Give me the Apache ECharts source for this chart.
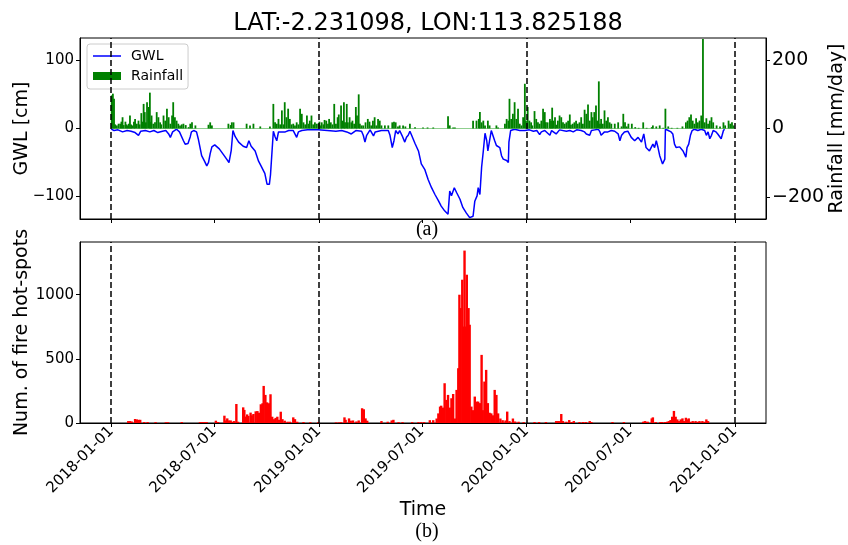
<!DOCTYPE html>
<html>
<head>
<meta charset="utf-8">
<script src="https://cdn.jsdelivr.net/npm/echarts@6/dist/echarts.min.js"></script>
<style>
html,body{margin:0;padding:0;background:#fff;}
#chart{width:848px;height:545px;}
</style>
</head>
<body>
<div id="chart"></div>
<script>
// Day offsets are counted from 2018-01-01 (day 0)
const START_DATE = '2018-01-01';
const xTickDays = [0, 181, 365, 546, 730, 912, 1096];
const yearMarkerDays = [0, 365, 730, 1096];
const gwlTicks = [-100, 0, 100];
const rainTicks = [-200, 0, 200];
const fireTicks = [0, 500, 1000];

// Ground water level [cm]: [day, value]
const gwl = [
[0,-1],[5,-3],[12,-2],[20,-5],[28,-3],[35,-4],[42,-6],[48,-10],[52,-4],[60,-3],[68,-5],[75,-3],[82,-6],[90,-4],[96,-3],[101,-8],[104,-13],[108,-5],[115,-1],[120,-5],[127,-18],[130,-23],[135,-22],[139,-12],[141,-5],[145,-3],[150,-5],[153,-15],[159,-40],[164,-48],[168,-55],[171,-50],[174,-37],[177,-27],[182,-24],[185,-24],[190,-30],[197,-38],[202,-44],[207,-50],[211,-32],[214,-3],[218,-12],[224,-20],[232,-26],[238,-28],[242,-18],[246,-26],[253,-33],[259,-48],[264,-56],[270,-66],[274,-82],[278,-82],[280,-68],[282,-70],[285,-4],[288,-12],[291,-18],[294,-5],[297,-3],[300,-5],[306,-5],[312,-3],[320,-3],[326,-13],[329,-5],[335,-3],[345,-2],[355,-2],[364,-2],
[367,-1],[380,-3],[395,-4],[405,-3],[414,-5],[422,-8],[430,-3],[440,-4],[443,-10],[446,-20],[449,-10],[455,-2],[461,-11],[464,-5],[475,-3],[487,-3],[490,-10],[494,-28],[497,-18],[500,-3],[504,-8],[507,-3],[511,-10],[516,-20],[519,-13],[522,-10],[525,-4],[528,-10],[534,-22],[540,-33],[545,-52],[551,-60],[557,-75],[563,-87],[569,-97],[575,-106],[580,-114],[586,-121],[592,-126],[595,-92],[598,-99],[603,-87],[607,-94],[613,-104],[618,-116],[624,-124],[630,-131],[636,-129],[639,-107],[643,-99],[645,-87],[648,-97],[651,-57],[654,-33],[657,-7],[660,-18],[662,-33],[665,-18],[668,-3],[671,-5],[674,-18],[677,-25],[683,-28],[686,-40],[689,-45],[695,-47],[698,-50],[699,-20],[702,-3],[709,-1],[718,-3],[727,-3],
[735,-2],[742,-4],[748,-3],[753,-9],[756,-5],[762,-3],[765,-5],[771,-10],[774,-3],[777,-5],[782,-8],[788,-2],[800,-4],[806,-3],[812,-5],[818,-2],[826,-3],[832,-5],[835,-8],[841,-10],[844,-3],[850,-2],[856,-1],[859,-5],[861,-10],[864,-8],[867,-5],[873,-5],[879,-3],[885,-4],[891,-8],[894,-18],[897,-10],[902,-5],[908,-4],[914,-13],[920,-18],[926,-13],[932,-20],[936,-8],[940,-28],[946,-33],[949,-35],[952,-23],[955,-28],[958,-18],[961,-28],[964,-40],[969,-52],[973,-45],[974,-1],[979,-3],[984,-5],[987,-8],[990,-23],[993,-28],[999,-27],[1005,-33],[1010,-42],[1012,-28],[1015,-23],[1018,-10],[1021,-3],[1025,-1],[1031,-3],[1037,-1],[1043,-3],[1046,-10],[1049,-5],[1052,-15],[1055,-10],[1058,-3],[1063,-5],[1066,-8],[1072,-15],[1076,-3],[1078,-1]
];

// Rainfall [mm/day]: [day, value]
const rainfall = [
[1,97],[3,102],[5,87],[7,12],[10,9],[13,14],[16,14],[18,20],[20,33],[22,10],[25,20],[27,12],[29,9],[31,14],[33,38],[35,12],[37,9],[40,20],[42,28],[45,14],[48,23],[50,12],[53,45],[55,20],[57,72],[59,48],[61,18],[63,77],[66,63],[68,105],[70,20],[71,38],[74,14],[77,18],[80,48],[83,33],[86,18],[88,12],[92,38],[95,23],[98,58],[101,33],[104,14],[107,38],[109,77],[112,33],[115,23],[118,14],[121,9],[124,12],[127,14],[131,10],[136,4],[139,14],[142,18],[148,9],[171,11],[174,18],[177,9],[206,14],[210,10],[212,18],[215,18],[238,14],[244,9],[250,14],[262,6],[279,6],[285,72],[288,18],[291,14],[294,28],[297,12],[300,53],[303,12],[305,77],[308,33],[311,58],[314,28],[317,12],[320,14],[323,9],[326,18],[329,12],[332,58],[335,43],[338,18],[341,12],[344,38],[347,14],[349,23],[352,38],[355,12],[358,18],[361,14],[364,14],
[366,20],[368,9],[370,18],[373,12],[375,25],[378,23],[381,14],[383,28],[386,18],[389,12],[392,72],[395,14],[398,33],[400,41],[404,67],[406,23],[409,77],[411,18],[414,72],[416,18],[419,33],[422,18],[424,23],[427,14],[430,63],[432,38],[435,100],[437,14],[440,9],[443,9],[447,18],[451,28],[454,20],[457,9],[460,23],[463,33],[466,9],[469,28],[472,23],[475,9],[481,9],[487,9],[494,18],[497,20],[500,18],[504,6],[507,9],[513,9],[517,6],[525,14],[534,4],[548,3],[556,3],[566,3],[592,36],[595,9],[601,3],[604,3],[636,23],[642,23],[646,28],[648,48],[651,18],[654,23],[657,9],[662,23],[665,9],[677,9],[680,3],[692,14],[695,28],[698,23],[700,87],[703,28],[706,43],[709,77],[712,28],[715,58],[718,14],[721,9],[724,33],[727,131],[729,23],
[732,63],[735,23],[738,18],[740,9],[744,51],[747,28],[750,18],[753,14],[756,23],[759,58],[762,48],[764,18],[767,18],[771,28],[773,23],[775,61],[777,23],[780,33],[782,11],[785,23],[788,38],[791,33],[794,18],[797,14],[800,18],[803,23],[806,41],[808,11],[811,14],[814,18],[817,23],[820,14],[823,18],[826,33],[829,14],[832,55],[835,43],[838,70],[841,23],[844,48],[846,33],[849,48],[852,67],[854,23],[857,138],[859,14],[861,28],[864,14],[867,53],[870,23],[873,33],[876,18],[879,14],[885,14],[891,18],[897,6],[900,43],[903,18],[906,6],[909,14],[915,14],[921,4],[927,2],[935,18],[941,2],[950,4],[952,9],[958,6],[964,9],[970,2],[974,58],[979,6],[985,2],[995,2],[1004,6],[1010,18],[1013,23],[1016,33],[1019,41],[1022,23],[1025,14],[1028,30],[1031,18],[1034,23],[1037,38],[1039,23],[1040,262],[1043,18],[1046,30],[1049,14],[1052,23],[1055,33],[1058,18],[1064,9],[1070,6],[1076,18],[1079,9],[1085,23],[1088,14],[1091,18],[1094,9]
];
const rainfallZero = [[0,0],[1095,0]];

// Number of fire hot-spots: [day, count]
const fire = [
[30,15],[33,15],[36,12],[42,31],[45,28],[48,25],[51,25],[58,8],[64,8],[78,7],[96,6],[100,6],[124,8],[156,7],[159,7],[162,7],[165,7],[168,7],[184,18],[188,8],[199,57],[202,20],[204,36],[207,20],[210,20],[213,10],[216,15],[220,148],[223,10],[232,122],[234,102],[236,50],[239,67],[241,55],[245,81],[247,60],[250,70],[254,91],[257,93],[260,80],[263,146],[266,154],[268,289],[271,219],[274,161],[277,154],[280,224],[283,49],[286,30],[289,40],[292,49],[295,25],[298,88],[301,30],[305,18],[310,10],[314,10],[320,44],[323,30],[327,10],[338,8],[350,6],[364,7],
[395,5],[400,5],[404,7],[410,44],[412,25],[418,36],[421,18],[425,20],[431,12],[435,20],[441,115],[444,107],[447,36],[450,18],[475,15],[486,10],[493,20],[496,25],[505,7],[512,7],[529,7],[540,7],[545,7],[550,7],[560,22],[566,22],[572,35],[575,75],[578,128],[580,135],[583,120],[586,310],[589,180],[592,219],[595,120],[598,193],[601,226],[604,35],[607,258],[610,427],[612,1000],[614,896],[617,1117],[619,752],[621,1344],[623,752],[625,1156],[628,896],[630,766],[633,128],[636,100],[639,206],[642,167],[645,167],[648,155],[651,531],[653,100],[656,323],[659,414],[662,155],[665,80],[668,75],[671,60],[674,258],[677,219],[680,75],[684,35],[688,22],[693,20],[696,89],[700,15],[706,35],[710,12],[716,10],[725,7],
[744,8],[752,8],[764,8],[782,15],[785,15],[788,15],[791,70],[794,15],[800,10],[805,23],[809,8],[813,15],[823,8],[829,8],[834,8],[841,15],[844,8],[881,8],[901,8],[935,10],[938,15],[940,10],[943,10],[950,36],[952,44],[957,8],[965,8],[968,8],[973,8],[977,10],[980,15],[983,23],[986,49],[989,94],[992,49],[995,28],[998,15],[1001,28],[1004,36],[1007,15],[1010,41],[1012,28],[1015,36],[1018,10],[1022,15],[1027,15],[1031,10],[1034,15],[1039,15],[1043,10],[1046,28],[1049,15]
];

const START_MS = Date.parse(START_DATE + 'T00:00:00Z');
function dayToISO(d) { return new Date(START_MS + d * 86400000).toISOString().slice(0, 10); }
function fmtNum(v) { return v < 0 ? '\u2212' + (-v) : String(v); }

const FONT = 'DejaVu Sans';
const X_MIN = -54.8, X_MAX = 1150.8;

const dashLines = {
  silent: true, symbol: ['none', 'none'], animation: false,
  label: { show: false },
  lineStyle: { color: '#000', type: [6, 3], width: 1.5 },
  data: yearMarkerDays.map(d => ({ xAxis: d }))
};

const chart = echarts.init(document.getElementById('chart'), null, { renderer: 'canvas' });
chart.setOption({
  animation: false,
  backgroundColor: '#fff',
  textStyle: { fontFamily: FONT, color: '#000' },
  title: {
    text: 'LAT:-2.231098, LON:113.825188', left: 423, top: 7, textAlign: 'center',
    textStyle: { fontFamily: FONT, fontSize: 24, fontWeight: 'normal', color: '#000' }
  },
  legend: {
    orient: 'vertical', left: 87, top: 44,
    padding: [5, 5, 6, 6], itemGap: 6, itemWidth: 28, itemHeight: 8,
    borderColor: '#cccccc', borderWidth: 1, borderRadius: 3, backgroundColor: 'rgba(255,255,255,0.8)',
    textStyle: { fontFamily: FONT, fontSize: 14, color: '#000', padding: [0, 0, 0, 5] },
    data: [
      { name: 'GWL', icon: 'path://M0,3.3h28v1.5h-28z M0,0h0.01v8h-0.01z' },
      { name: 'Rainfall', icon: 'rect' }
    ]
  },
  grid: [
    { left: 80, top: 38, width: 686, height: 181, show: true, borderColor: '#000', borderWidth: 1, backgroundColor: 'transparent', containLabel: false, outerBoundsMode: 'none' },
    { left: 80, top: 242, width: 686, height: 181, show: true, borderColor: '#000', borderWidth: 1, backgroundColor: 'transparent', containLabel: false, outerBoundsMode: 'none' }
  ],
  graphic: [
    { type: 'text', style: { text: '(a)', x: 427, y: 230, textAlign: 'center', textVerticalAlign: 'middle', font: '20px "Liberation Serif"', fill: '#000' } },
    { type: 'text', style: { text: '(b)', x: 427, y: 532, textAlign: 'center', textVerticalAlign: 'middle', font: '20px "Liberation Serif"', fill: '#000' } }
  ],
  xAxis: [
    {
      gridIndex: 0, type: 'value', min: X_MIN, max: X_MAX,
      axisLine: { onZero: false, lineStyle: { color: '#000', width: 1 } },
      splitLine: { show: false },
      axisTick: { customValues: xTickDays, length: 4, lineStyle: { color: '#000' } },
      axisLabel: { show: false }
    },
    {
      gridIndex: 1, type: 'value', min: X_MIN, max: X_MAX,
      axisLine: { onZero: false, lineStyle: { color: '#000', width: 1 } },
      splitLine: { show: false },
      axisTick: { customValues: xTickDays, length: 4, lineStyle: { color: '#000' } },
      axisLabel: { customValues: xTickDays, rotate: 45, margin: 6, fontSize: 15, fontFamily: FONT, color: '#000', formatter: v => dayToISO(v) },
      name: 'Time', nameLocation: 'middle', nameGap: 78, nameMoveOverlap: false,
      nameTextStyle: { fontFamily: FONT, fontSize: 19, color: '#000' }
    }
  ],
  yAxis: [
    {
      gridIndex: 0, type: 'value', min: -133, max: 133, position: 'left',
      axisLine: { show: true, onZero: false, lineStyle: { color: '#000' } },
      splitLine: { show: false },
      axisTick: { show: true, customValues: gwlTicks, length: 4, lineStyle: { color: '#000' } },
      axisLabel: { customValues: gwlTicks, margin: 6, fontSize: 15, fontFamily: FONT, color: '#000', formatter: fmtNum },
      name: 'GWL [cm]', nameLocation: 'middle', nameGap: 48, nameRotate: 90, nameMoveOverlap: false,
      nameTextStyle: { fontFamily: FONT, fontSize: 19, color: '#000' }
    },
    {
      gridIndex: 0, type: 'value', min: -265, max: 265, position: 'right',
      axisLine: { show: true, onZero: false, lineStyle: { color: '#000' } },
      splitLine: { show: false },
      axisTick: { show: true, customValues: rainTicks, length: 4, lineStyle: { color: '#000' } },
      axisLabel: { customValues: rainTicks, margin: 6, fontSize: 19, fontFamily: FONT, color: '#000', formatter: fmtNum },
      name: 'Rainfall [mm/day]', nameLocation: 'middle', nameGap: 62, nameRotate: 90, nameMoveOverlap: false,
      nameTextStyle: { fontFamily: FONT, fontSize: 19, color: '#000' }
    },
    {
      gridIndex: 1, type: 'value', min: 0, max: 1411, position: 'left',
      axisLine: { show: true, onZero: false, lineStyle: { color: '#000' } },
      splitLine: { show: false },
      axisTick: { show: true, customValues: fireTicks, length: 4, lineStyle: { color: '#000' } },
      axisLabel: { customValues: fireTicks, margin: 6, fontSize: 15, fontFamily: FONT, color: '#000', formatter: fmtNum },
      name: 'Num. of fire hot-spots', nameLocation: 'middle', nameGap: 48, nameRotate: 90, nameMoveOverlap: false,
      nameTextStyle: { fontFamily: FONT, fontSize: 19, color: '#000' }
    }
  ],
  series: [
    {
      name: 'GWL', type: 'line', xAxisIndex: 0, yAxisIndex: 0, data: gwl,
      symbol: 'none', showSymbol: false, color: '#0000ff',
      lineStyle: { color: '#0000ff', width: 1.5 }, z: 2,
      markLine: dashLines
    },
    {
      name: 'RainZero', type: 'line', xAxisIndex: 0, yAxisIndex: 1, data: rainfallZero,
      symbol: 'none', silent: true, lineStyle: { color: '#8fcf8f', width: 1 }, z: 3
    },
    {
      name: 'Rainfall', type: 'bar', xAxisIndex: 0, yAxisIndex: 1, data: rainfall,
      barWidth: 1.8, itemStyle: { color: '#008000' }, color: '#008000', z: 4
    },
    {
      name: 'Fire', type: 'bar', xAxisIndex: 1, yAxisIndex: 2, data: fire,
      barWidth: 2.4, itemStyle: { color: '#ff0000' }, z: 2,
      markLine: dashLines
    }
  ]
});
</script>
</body>
</html>
